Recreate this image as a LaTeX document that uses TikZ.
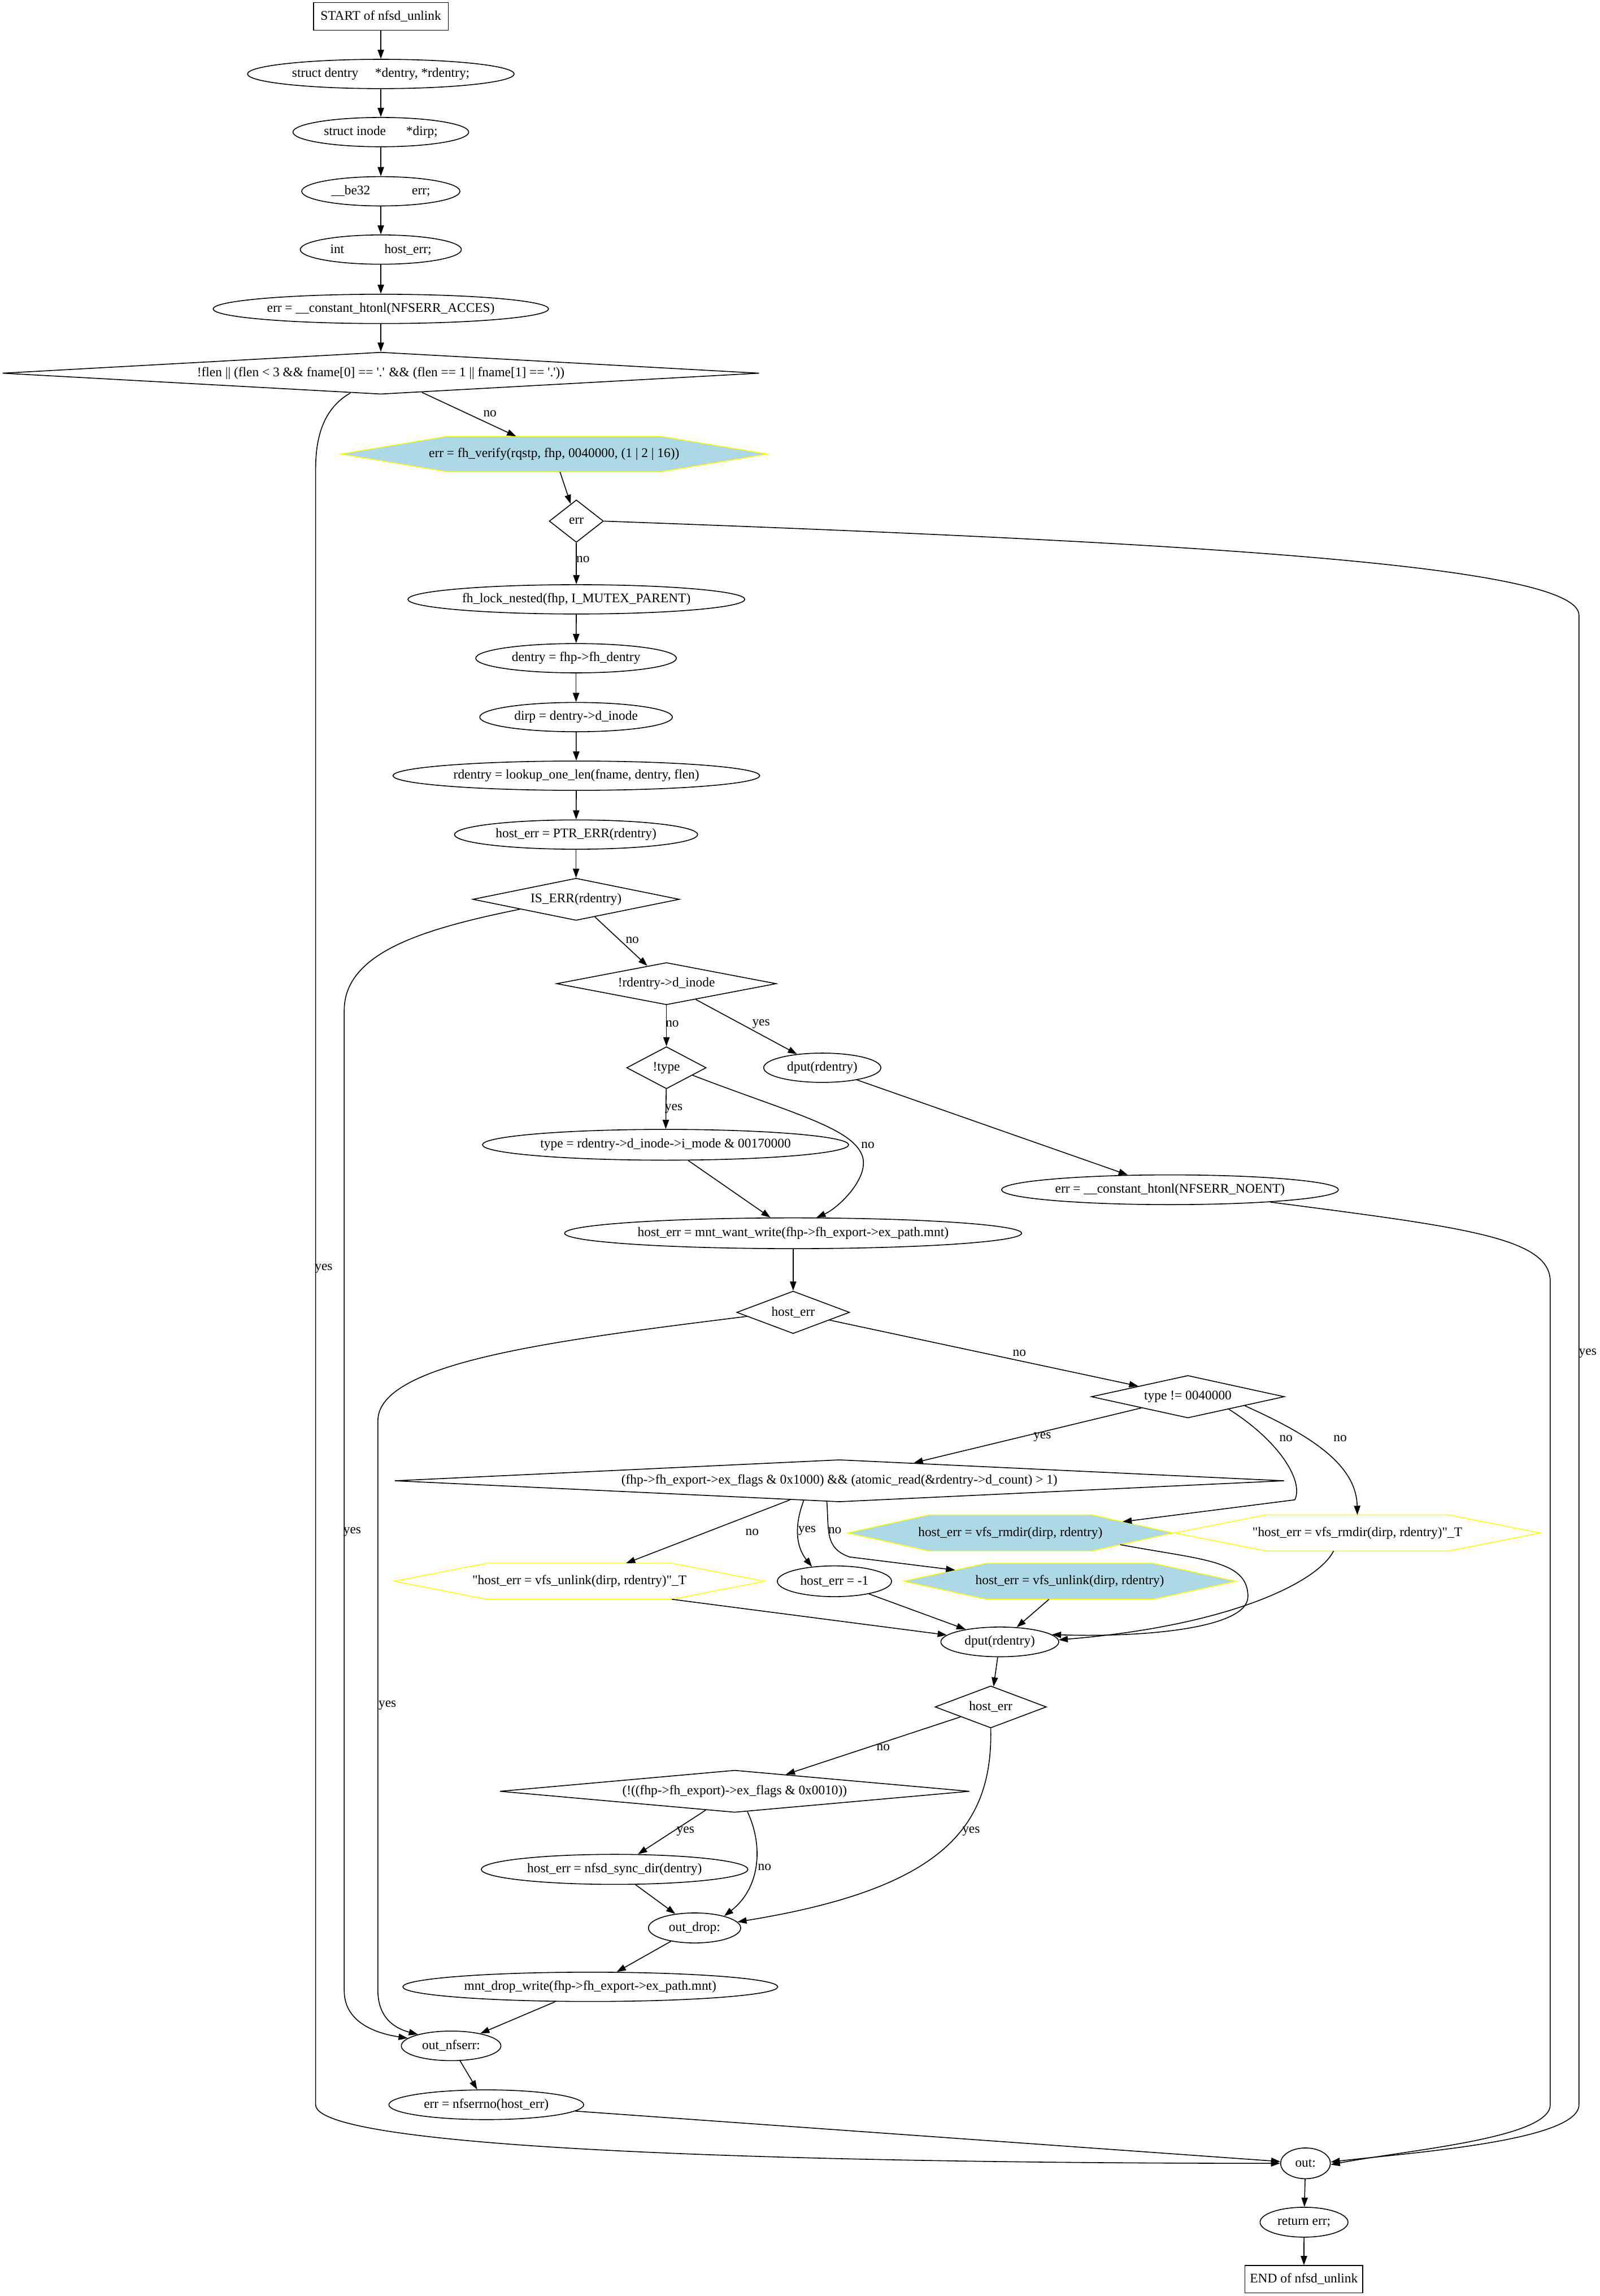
\documentclass[tikz,border=0pt]{standalone}
\usepackage{fontspec}
\setmainfont{Liberation Serif}
\usetikzlibrary{shapes.geometric}
\usetikzlibrary{arrows.meta}
\usetikzlibrary{calc}
\usetikzlibrary{backgrounds}

\definecolor{hexblue}{RGB}{173,216,230}
\definecolor{hexyellow}{RGB}{255,255,0}
\newcommand{\gu}{0.025925cm}
\newcommand{\flowfont}{\fontsize{6.65}{8}\selectfont}
% hexagon round a plain node
\newcommand{\hexshape}[2]{%
  \coordinate (#1-nw) at ($(#1.north west)!0.25!(#1.north east)$);
  \coordinate (#1-ne) at ($(#1.north west)!0.75!(#1.north east)$);
  \coordinate (#1-sw) at ($(#1.south west)!0.25!(#1.south east)$);
  \coordinate (#1-se) at ($(#1.south west)!0.75!(#1.south east)$);
  \filldraw[draw=hexyellow, fill=#2] (#1.west) -- (#1-nw) -- (#1-ne) -- (#1.east) -- (#1-se) -- (#1-sw) -- cycle;}

\begin{document}
\begin{tikzpicture}[x=\gu, y=-\gu, line width=0.45pt, >={Triangle[length=4.6pt,width=3.2pt]},
    every node/.style={font=\flowfont},
    sz/.style 2 args={minimum width=#1*\gu, minimum height=#2*\gu},
    term/.style 2 args={rectangle, draw, inner sep=0pt, sz={#1}{#2}},
    proc/.style 2 args={ellipse, draw, inner sep=0pt, sz={#1}{#2}},
    test/.style 2 args={diamond, draw, inner sep=0pt, sz={#1}{#2}, /utils/exec={\pgfmathsetmacro\dasp{#1/#2}}, aspect=\dasp},
    hexa/.style 2 args={rectangle, inner sep=0pt, sz={#1}{#2}},
    lbl/.style={inner sep=0pt}]
            \useasboundingbox (0,0) rectangle (1092,1567.6);

            % Declarations
            \node[term={92}{19}] (start) at (260,11.2) {START of nfsd\_unlink};
            \node[proc={182}{20}] (dent) at (260,50.5) {struct dentry\hspace{8.4pt}*dentry, *rdentry;};
            \node[proc={120}{20}] (inod) at (260,90.2) {struct inode\hspace{10.2pt}*dirp;};
            \node[proc={108}{20}] (be) at (260,130.6) {\_\_be32\hspace{21pt}err;};
            \node[proc={110}{20}] (hint) at (260,170.4) {int\hspace{20.3pt}host\_err;};
            \node[proc={229}{20}] (acces) at (260,210.9) {err = \_\_constant\_htonl(NFSERR\_ACCES)};
            \node[test={516.7}{28.7}] (flen) at (260,254.8) {!flen || (flen < 3 \&\& fname[0] == \textquotesingle.\textquotesingle{} \&\& (flen == 1 || fname[1] == \textquotesingle.\textquotesingle))};

            % Lookup
            \node[hexa={291}{23.6}] (verify) at (378.3,310) {err = fh\_verify(rqstp, fhp, 0040000, (1 | 2 | 16))};
            \node[test={37}{29}] (iferr) at (393.5,355.8) {err};
            \node[proc={230}{20}] (lock) at (393.5,409.2) {fh\_lock\_nested(fhp, I\_MUTEX\_PARENT)};
            \node[proc={137}{20}] (dentry) at (393.3,449.4) {dentry = fhp->fh\_dentry};
            \node[proc={131.5}{20}] (dirp) at (393.3,489.6) {dirp = dentry->d\_inode};
            \node[proc={250.4}{20}] (lookup) at (393.5,529.6) {rdentry = lookup\_one\_len(fname, dentry, flen)};
            \node[proc={166}{20}] (ptrerr) at (393.3,569.8) {host\_err = PTR\_ERR(rdentry)};
            \node[test={141}{28.8}] (iserr) at (393.3,614) {IS\_ERR(rdentry)};
            \node[test={150}{28.8}] (noinode) at (455,671.6) {!rdentry->d\_inode};
            \node[test={54.3}{28.7}] (notype) at (455,729) {!type};
            \node[proc={80}{20}] (dputa) at (561.4,729) {dput(rdentry)};
            \node[proc={250}{21}] (type) at (454.4,781.6) {type = rdentry->d\_inode->i\_mode \& 00170000};
            \node[proc={230}{20.3}] (noent) at (798.8,812.3) {err = \_\_constant\_htonl(NFSERR\_NOENT)};
            \node[proc={312}{21}] (want) at (541.5,842) {host\_err = mnt\_want\_write(fhp->fh\_export->ex\_path.mnt)};
            \node[test={77}{29}] (herra) at (541.5,896) {host\_err};

            % Remove
            \node[test={131.8}{29}] (isdir) at (811,953.6) {type != 0040000};
            \node[test={607.3}{28.8}] (flags) at (573.1,1011) {(fhp->fh\_export->ex\_flags \& 0x1000) \&\& (atomic\_read(\&rdentry->d\_count) > 1)};
            \node[hexa={221.6}{24}] (rmdir) at (689.8,1046.6) {host\_err = vfs\_rmdir(dirp, rdentry)};
            \node[hexa={249}{24}] (rmdirt) at (926.7,1046.6) {\textquotedbl{}host\_err = vfs\_rmdir(dirp, rdentry)\textquotedbl\_T};
            \node[hexa={252}{24}] (unlinkt) at (395.6,1079.6) {\textquotedbl{}host\_err = vfs\_unlink(dirp, rdentry)\textquotedbl\_T};
            \node[proc={78}{21}] (minus) at (569.7,1079.6) {host\_err = -1};
            \node[hexa={226.4}{24}] (unlink) at (730.4,1079.6) {host\_err = vfs\_unlink(dirp, rdentry)};
            \node[proc={80.5}{20.3}] (dputb) at (682.6,1121) {dput(rdentry)};
            \node[test={76}{28.7}] (herrb) at (676.4,1165.4) {host\_err};
            \node[test={320.7}{28.8}] (nosync) at (501.6,1223) {(!((fhp->fh\_export)->ex\_flags \& 0x0010))};
            \node[proc={182}{20.5}] (syncdir) at (419.6,1276.3) {host\_err = nfsd\_sync\_dir(dentry)};

            % Exits
            \node[proc={63}{20.5}] (outdrop) at (474.2,1316.3) {out\_drop:};
            \node[proc={256}{20}] (mntdrop) at (403,1356.5) {mnt\_drop\_write(fhp->fh\_export->ex\_path.mnt)};
            \node[proc={68}{20.2}] (outnfserr) at (308,1396.8) {out\_nfserr:};
            \node[proc={133}{20.3}] (nfserrno) at (332,1437) {err = nfserrno(host\_err)};
            \node[proc={34}{21}] (out) at (891.3,1477) {out:};
            \node[proc={60}{20.4}] (ret) at (890.3,1517.2) {return err;};
            \node[term={80.4}{18.6}] (finish) at (890.2,1556.1) {END of nfsd\_unlink};

            \begin{scope}[on background layer]
                \hexshape{verify}{hexblue}
                \hexshape{rmdir}{hexblue}
                \hexshape{unlink}{hexblue}
                \hexshape{rmdirt}{white}
                \hexshape{unlinkt}{white}
            \end{scope}

            % Straight run
            \draw[->] (start) -- (dent);
            \draw[->] (dent) -- (inod);
            \draw[->] (inod) -- (be);
            \draw[->] (be) -- (hint);
            \draw[->] (hint) -- (acces);
            \draw[->] (acces) -- (flen);
            \draw[->] (flen) -- (verify) node[lbl, at={(334.5,282.5)}] (lflen) {no};
            \draw[->] (flen.213) .. controls (226,276) and (215.5,290) .. (215.5,320) -- (215.5,1437)
                .. controls (215.5,1470) and (600,1477) .. (out.west) node[lbl, at={(221,866)}] (lflenb) {yes};
            \draw[->] (verify) -- (iferr);
            \draw[->] (iferr) -- (lock) node[lbl, at={(398,382)}] (liferr) {no};
            \draw[->] (iferr.east) .. controls (800,370) and (1078,385) .. (1078,420) -- (1078,1437)
                .. controls (1078,1462) and (960,1470) .. (out.3) node[lbl, at={(1084,924)}] (liferrb) {yes};
            \draw[->] (lock) -- (dentry);
            \draw[->] (dentry) -- (dirp);
            \draw[->] (dirp) -- (lookup);
            \draw[->] (lookup) -- (ptrerr);
            \draw[->] (ptrerr) -- (iserr);
            \draw[->] (iserr) -- (noinode) node[lbl, at={(431.7,641.8)}] (liserr) {no};
            \draw[->] (iserr.190) .. controls (290,634) and (235,650) .. (235,690) -- (235,1359)
                .. controls (235,1380) and (255,1388) .. (outnfserr.170) node[lbl, at={(240.5,1046)}] (liserrb) {yes};
            \draw[->] (noinode) -- (notype) node[lbl, at={(459,699)}] (lnoinode) {no};
            \draw[->] (noinode) -- (dputa) node[lbl, at={(519.6,699)}] (lnoinodeb) {yes};
            \draw[->] (notype) -- (type) node[lbl, at={(460,757)}] (lnotype) {yes};
            \draw[->] (notype.-16) .. controls (540,760) and (583,770) .. (589,790)
                .. controls (593,805) and (572,825) .. (want.34) node[lbl, at={(592.5,782)}] (lnotypeb) {no};
            \draw[->] (dputa) -- (noent);
            \draw[->] (noent.-7) .. controls (1000,838) and (1058.4,845) .. (1058.4,875) -- (1058.4,1437)
                .. controls (1058.4,1460) and (960,1468) .. (out.-3);
            \draw[->] (type) -- (want);
            \draw[->] (want) -- (herra);
            \draw[->] (herra) -- (isdir) node[lbl, at={(696,924)}] (lherra) {no};
            \draw[->] (herra.185) .. controls (380,915) and (258,930) .. (258,970) -- (258,1359)
                .. controls (258,1378) and (270,1385) .. (outnfserr.161) node[lbl, at={(264.5,1164.5)}] (lherrab) {yes};

            % Branches of the remove
            \draw[->] (isdir) -- (flags) node[lbl, at={(711.6,981)}] (lisdir) {yes};
            \draw[->] (isdir.-17) .. controls (875,985) and (890,1012) .. (884,1024)
                -- ($(rmdir-ne)!0.38!(rmdir.east)$) node[lbl, at={(878,982)}] (lisdirb) {no};
            \draw[->] (isdir.-9) .. controls (895,980) and (926,1000) .. (rmdirt.north) node[lbl, at={(915,982)}] (lisdirc) {no};
            \draw[->] (flags) -- (unlinkt) node[lbl, at={(513.5,1046)}] (lflags) {no};
            \draw[->] (flags.209) .. controls (541,1045) and (545,1058) .. (minus.147) node[lbl, at={(551,1045)}] (lflagsb) {yes};
            \draw[->] (flags.239) .. controls (566,1045) and (563,1057) .. (580,1063)
                -- ($(unlink.west)!0.62!(unlink-nw)$) node[lbl, at={(570,1045)}] (lflagsc) {no};
            \draw[->] (unlinkt-se) -- (dputb);
            \draw[->] (minus) -- (dputb);
            \draw[->] (unlink) -- (dputb);
            \draw[->] ($(rmdir-se)!0.35!(rmdir.east)$) .. controls (820,1065) and (852,1065) .. (852,1090)
                .. controls (852,1112) and (780,1118) .. (dputb.8);
            \draw[->] ($(rmdirt-sw)!0.37!(rmdirt-se)$) .. controls (900,1080) and (840,1110) .. (dputb.2);
            \draw[->] (dputb) -- (herrb);
            \draw[->] (herrb) -- (nosync) node[lbl, at={(603,1193)}] (lherrb) {no};
            \draw[->] (herrb.south) .. controls (678,1250) and (640,1290) .. (outdrop.8) node[lbl, at={(663,1250.5)}] (lherrbb) {yes};
            \draw[->] (nosync) -- (syncdir) node[lbl, at={(468,1250.5)}] (lnosync) {yes};
            \draw[->] (nosync.-58) .. controls (522,1262) and (518,1290) .. (outdrop.22) node[lbl, at={(522,1275)}] (lnosyncb) {no};
            \draw[->] (syncdir) -- (outdrop);

            % Tail
            \draw[->] (outdrop) -- (mntdrop);
            \draw[->] (mntdrop) -- (outnfserr);
            \draw[->] (outnfserr) -- (nfserrno);
            \draw[->] (nfserrno) -- (out);
            \draw[->] (out) -- (ret);
            \draw[->] (ret) -- (finish);
        \end{tikzpicture}
\end{document}
